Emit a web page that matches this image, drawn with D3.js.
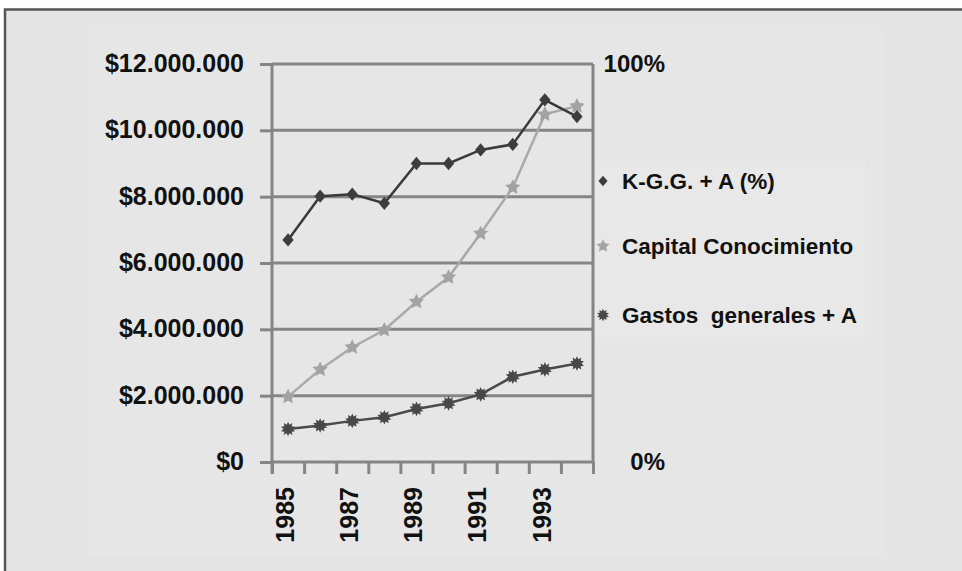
<!DOCTYPE html>
<html>
<head>
<meta charset="utf-8">
<script src="https://cdn.jsdelivr.net/npm/d3@7"></script>
<style>
    body { margin: 0; background: #ffffff; }
    svg { display: block; }
    .axis text { font-family: "Liberation Sans", Arial, sans-serif; font-weight: bold; fill: #111; }
    .legend text { font-family: "Liberation Sans", Arial, sans-serif; font-weight: bold; fill: #111; white-space: pre; }
</style>
</head>
<body>
<div id="chart-area"></div>
<script>
// Data
var years = [1985, 1986, 1987, 1988, 1989, 1990, 1991, 1992, 1993, 1994];
var yearLabels = [1985, 1987, 1989, 1991, 1993];
var kggPct = [0.558, 0.668, 0.673, 0.650, 0.750, 0.750, 0.784, 0.798, 0.910, 0.868];
var capitalConocimiento = [1970000, 2790000, 3460000, 3980000, 4830000, 5570000, 6890000, 8280000, 10480000, 10730000];
var gastosGenerales = [995000, 1100000, 1240000, 1350000, 1600000, 1770000, 2040000, 2570000, 2790000, 2970000];
var leftTicks = [0, 2000000, 4000000, 6000000, 8000000, 10000000, 12000000];
var rightTicks = [0, 1];
var seriesNames = ["K-G.G. + A (%)", "Capital Conocimiento", "Gastos  generales + A"];

// custom marker shapes
var diamondShape = {
    draw: function(context, size) {
        var h = Math.sqrt(size) * 0.62, w = h * 0.85;
        context.moveTo(0, -h);
        context.lineTo(w, 0);
        context.lineTo(0, h);
        context.lineTo(-w, 0);
        context.closePath();
    }
};
function spikyShape(n, inner) {
    return {
        draw: function(context, size) {
            var r = Math.sqrt(size) * 0.6, ri = r * inner;
            for (var i = 0; i < n * 2; i++) {
                var a = Math.PI * i / n - Math.PI / 2;
                var rr = i % 2 === 0 ? r : ri;
                if (i === 0) context.moveTo(rr * Math.cos(a), rr * Math.sin(a));
                else context.lineTo(rr * Math.cos(a), rr * Math.sin(a));
            }
            context.closePath();
        }
    };
}
var starShape = spikyShape(5, 0.5);
var burstShape = spikyShape(10, 0.62);

ChartVis = function(_parentElement) {
    this.parentElement = _parentElement;
    this.initVis();
}

ChartVis.prototype.initVis = function() {
    var vis = this;

    vis.width = 962;
    vis.height = 571;
    vis.plot = { left: 272, right: 593, top: 64, bottom: 462 };

    vis.svg = d3.select("#" + vis.parentElement).append("svg")
        .attr("width", vis.width)
        .attr("height", vis.height);

    // frame + panels
    vis.svg.append("rect")
        .attr("x", 5).attr("y", 9.5)
        .attr("width", 1000).attr("height", 600)
        .attr("fill", "#e4e4e4")
        .attr("stroke", "#555").attr("stroke-width", 2.5);
    vis.svg.append("rect")
        .attr("x", 88).attr("y", 30)
        .attr("width", 795).attr("height", 527)
        .attr("fill", "#e6e6e6");
    vis.svg.append("rect")
        .attr("x", 595).attr("y", 162)
        .attr("width", 270).attr("height", 176)
        .attr("fill", "#e8e8e8");

    // Scales
    vis.x = d3.scaleBand()
        .domain(years)
        .range([vis.plot.left, vis.plot.right]);
    vis.xEdge = d3.scaleLinear()
        .domain([0, years.length])
        .range([vis.plot.left, vis.plot.right]);
    vis.y = d3.scaleLinear()
        .domain([0, 12000000])
        .range([vis.plot.bottom, vis.plot.top]);
    vis.yPct = d3.scaleLinear()
        .domain([0, 1])
        .range([vis.plot.bottom, vis.plot.top]);

    var locale = d3.formatLocale({ decimal: ",", thousands: ".", grouping: [3], currency: ["$", ""] });
    vis.moneyFormat = locale.format("$,.0f");

    vis.drawGrid();
    vis.drawAxes();
    vis.drawSeries();
    vis.drawLegend();
}

ChartVis.prototype.drawGrid = function() {
    var vis = this;

    vis.svg.append("g")
        .selectAll("line")
        .data(leftTicks)
        .enter().append("line")
        .attr("x1", vis.plot.left)
        .attr("x2", vis.plot.right)
        .attr("y1", function(d) { return vis.y(d); })
        .attr("y2", function(d) { return vis.y(d); })
        .attr("stroke", "#858585")
        .attr("stroke-width", 3);

    // right border of plot
    vis.svg.append("line")
        .attr("x1", vis.plot.right).attr("x2", vis.plot.right)
        .attr("y1", vis.plot.top).attr("y2", vis.plot.bottom)
        .attr("stroke", "#858585")
        .attr("stroke-width", 3);
}

ChartVis.prototype.drawAxes = function() {
    var vis = this;

    // left money axis
    vis.yAxis = d3.axisLeft(vis.y)
        .tickValues(leftTicks)
        .tickSize(12)
        .tickPadding(16)
        .tickFormat(vis.moneyFormat);
    var yg = vis.svg.append("g")
        .attr("class", "axis y-axis")
        .attr("transform", "translate(" + vis.plot.left + ",0)")
        .call(vis.yAxis);
    yg.select(".domain").remove();
    yg.selectAll(".tick line").attr("stroke", "#858585").attr("stroke-width", 3);
    yg.selectAll(".tick text").attr("font-size", 25).attr("dy", "0.3em");
    yg.append("line")
        .attr("y1", vis.plot.top).attr("y2", vis.plot.bottom + 12)
        .attr("stroke", "#858585").attr("stroke-width", 3);

    // right percent axis, labels only
    vis.yPctAxis = d3.axisRight(vis.yPct)
        .tickValues(rightTicks)
        .tickSize(0)
        .tickFormat(d3.format(".0%"));
    var pg = vis.svg.append("g")
        .attr("class", "axis y-pct-axis")
        .attr("transform", "translate(665,0)")
        .call(vis.yPctAxis);
    pg.select(".domain").remove();
    pg.selectAll(".tick text")
        .attr("x", 0)
        .attr("text-anchor", "end")
        .attr("font-size", 24)
        .attr("dy", "0.3em");

    // x tick marks between categories
    vis.xTickAxis = d3.axisBottom(vis.xEdge)
        .tickValues(d3.range(years.length + 1))
        .tickSize(12)
        .tickFormat("");
    var xt = vis.svg.append("g")
        .attr("class", "axis x-ticks")
        .attr("transform", "translate(0," + vis.plot.bottom + ")")
        .call(vis.xTickAxis);
    xt.select(".domain").remove();
    xt.selectAll(".tick line").attr("stroke", "#858585").attr("stroke-width", 3);

    // x labels, rotated
    vis.xAxis = d3.axisBottom(vis.x)
        .tickValues(yearLabels)
        .tickSize(0);
    var xg = vis.svg.append("g")
        .attr("class", "axis x-axis")
        .attr("transform", "translate(0," + vis.plot.bottom + ")")
        .call(vis.xAxis);
    xg.select(".domain").remove();
    xg.selectAll(".tick text")
        .attr("font-size", 25)
        .attr("transform", "rotate(-90)")
        .attr("text-anchor", "end")
        .attr("x", -25)
        .attr("y", -3)
        .attr("dy", "0.35em");
}

ChartVis.prototype.drawSeries = function() {
    var vis = this;

    var series = [
        { values: capitalConocimiento, scale: vis.y, line: "#a9a9a9", fill: "#a3a3a3", width: 2.5, shape: starShape, size: 180 },
        { values: gastosGenerales, scale: vis.y, line: "#4a4a4a", fill: "#484848", width: 2.5, shape: burstShape, size: 150 },
        { values: kggPct, scale: vis.yPct, line: "#3a3a3a", fill: "#3d3d3d", width: 2.5, shape: diamondShape, size: 115 }
    ];

    series.forEach(function(s) {
        var line = d3.line()
            .x(function(d, i) { return vis.x(years[i]) + vis.x.bandwidth() / 2; })
            .y(function(d) { return s.scale(d); });

        vis.svg.append("path")
            .datum(s.values)
            .attr("d", line)
            .attr("fill", "none")
            .attr("stroke", s.line)
            .attr("stroke-width", s.width);

        vis.svg.append("g")
            .selectAll("path")
            .data(s.values)
            .enter().append("path")
            .attr("d", d3.symbol().type(s.shape).size(s.size))
            .attr("transform", function(d, i) {
                return "translate(" + (vis.x(years[i]) + vis.x.bandwidth() / 2) + "," + s.scale(d) + ")";
            })
            .attr("fill", s.fill);
    });
}

ChartVis.prototype.drawLegend = function() {
    var vis = this;

    var items = [
        { name: seriesNames[0], shape: diamondShape, size: 75, fill: "#3d3d3d", y: 181 },
        { name: seriesNames[1], shape: starShape, size: 130, fill: "#a3a3a3", y: 246 },
        { name: seriesNames[2], shape: burstShape, size: 110, fill: "#484848", y: 315 }
    ];

    var lg = vis.svg.append("g").attr("class", "legend");
    var rows = lg.selectAll("g")
        .data(items)
        .enter().append("g")
        .attr("transform", function(d) { return "translate(603," + d.y + ")"; });

    rows.append("path")
        .attr("d", function(d) { return d3.symbol().type(d.shape).size(d.size)(); })
        .attr("fill", function(d) { return d.fill; });

    rows.append("text")
        .attr("x", 19)
        .attr("dy", "0.35em")
        .attr("font-size", 22.5)
        .text(function(d) { return d.name; });
}

new ChartVis("chart-area");
</script>
</body>
</html>
